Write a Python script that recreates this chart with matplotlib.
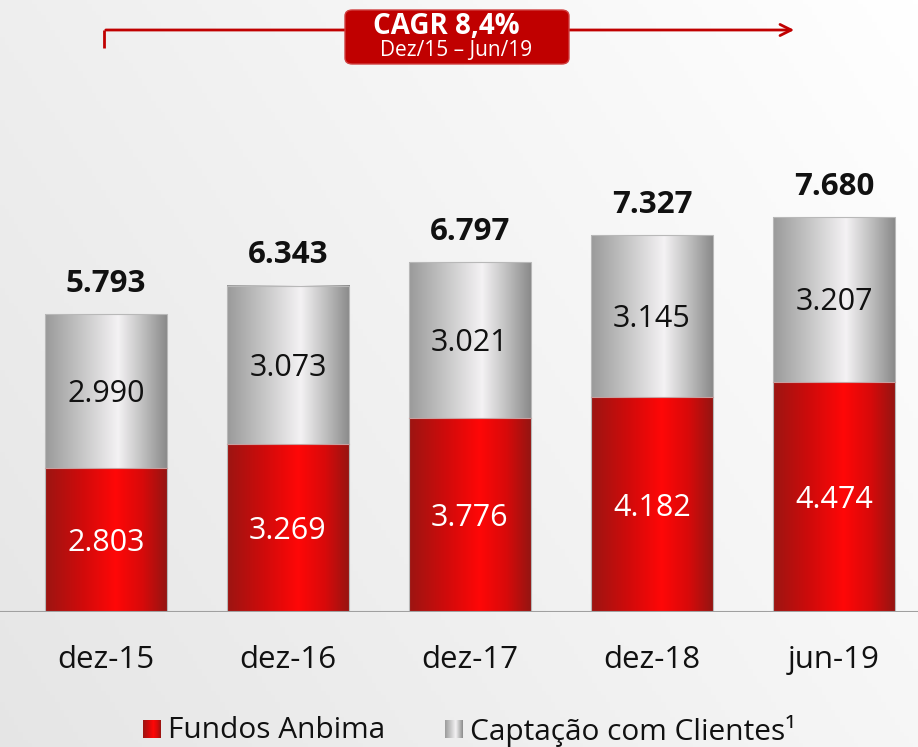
import numpy as np
import matplotlib
matplotlib.use("Agg")
import matplotlib.pyplot as plt
from matplotlib.colors import LinearSegmentedColormap
from matplotlib.patches import FancyBboxPatch, Rectangle

categories = ["dez-15", "dez-16", "dez-17", "dez-18", "jun-19"]
fundos = [2803, 3269, 3776, 4182, 4474]
captacao = [2990, 3073, 3021, 3145, 3207]
totals = [5793, 6343, 6797, 7327, 7680]
labels_fundos = ["2.803", "3.269", "3.776", "4.182", "4.474"]
labels_capt = ["2.990", "3.073", "3.021", "3.145", "3.207"]
labels_tot = ["5.793", "6.343", "6.797", "7.327", "7.680"]

plt.rcParams['font.family'] = ['Open Sans', 'DejaVu Sans']

W, H = 918, 747
fig = plt.figure(figsize=(W/100, H/100), dpi=100)

# background gradient
bg = fig.add_axes([0, 0, 1, 1])
yy, xx = np.mgrid[0:1:200j, 0:1:200j]
val = 0.90 + 0.10 * np.clip(0.65*xx + 0.35*(1-yy), 0, 1)
bg.imshow(np.dstack([val, val, val]), extent=[0, 1, 0, 1], aspect='auto', origin='upper')
bg.set_xlim(0, 1); bg.set_ylim(0, 1); bg.axis('off')

base_px = 612
ax = fig.add_axes([0, (H-base_px)/H, 1, base_px/H])
ax.patch.set_alpha(0)
scale = 0.05144
for s in ax.spines.values():
    s.set_visible(False)
ax.axhline(0, color="#a0a0a0", lw=1.5, zorder=5)
ax.set_yticks([])
ax.set_xticks(range(len(categories)))
ax.set_xticklabels(categories, fontsize=22.5, color="#111111")
ax.tick_params(axis='x', length=0, pad=24)

red_cmap = LinearSegmentedColormap.from_list("r", [(0, "#9c1512"), (0.3, "#cf0b0b"), (0.58, "#ff0707"), (0.8, "#d80a0a"), (1, "#951512")])
gray_cmap = LinearSegmentedColormap.from_list("g", [(0, "#9a9a9a"), (0.3, "#c6c6c6"), (0.6, "#f4f2f4"), (0.8, "#c0c0c0"), (1, "#8a8a8a")])
grad = np.linspace(0, 1, 256).reshape(1, -1)

bw = 122/182
x = np.arange(len(categories))
for i in range(len(categories)):
    x0 = x[i] - bw/2
    ax.imshow(grad, cmap=red_cmap, extent=[x0, x0+bw, 0, fundos[i]], aspect='auto', zorder=2)
    ax.imshow(grad, cmap=gray_cmap, extent=[x0, x0+bw, fundos[i], fundos[i]+captacao[i]], aspect='auto', zorder=2)
    ax.add_patch(Rectangle((x0, 0), bw, fundos[i]+captacao[i], fill=False, ec="#b8b8b8", lw=0.8, zorder=3))
    ax.plot([x0, x0+bw], [fundos[i]]*2, color="#c8a0a0", lw=0.8, zorder=3)
    ax.text(x[i], fundos[i]*0.5 - 60, labels_fundos[i], ha='center', va='center', color='white', fontsize=22, zorder=4)
    ax.text(x[i], fundos[i]+captacao[i]*0.5 - 60, labels_capt[i], ha='center', va='center', color='#111111', fontsize=22, zorder=4)
    ax.text(x[i], totals[i] + 300, labels_tot[i], ha='center', va='bottom', color='#111111', fontsize=22.5, fontweight='bold', zorder=4)
ax.set_xlim(-106/182, (918-106)/182)
ax.set_ylim(0, base_px/scale)

# CAGR arrow and box (figure coords)
def fx(px): return px/W
def fy(py): return 1 - py/H
red = "#c00000"
bg.plot([fx(104), fx(104)], [fy(48), fy(30)], color=red, lw=2, solid_capstyle='butt')
bg.annotate("", xy=(fx(797), fy(30)), xytext=(fx(103), fy(30)),
            arrowprops=dict(arrowstyle="->,head_length=0.8,head_width=0.4", color=red, lw=2))
box = FancyBboxPatch((fx(345), fy(64)), fx(569)-fx(345), fy(10)-fy(64),
                     boxstyle="round,pad=0,rounding_size=0.008", fc=red, ec="#d04040", lw=1, zorder=5)
bg.add_patch(box)
bg.text(fx(446), fy(27), "CAGR 8,4%", ha='center', va='center', color='white', fontsize=20, fontweight='bold', zorder=6)
bg.text(fx(456), fy(51), "Dez/15 – Jun/19", ha='center', va='center', color='white', fontsize=15, zorder=6)

# legend
lg = [(143, "Fundos Anbima", red_cmap), (445, "Captação com Clientes¹", gray_cmap)]
for px, lab, cm in lg:
    bg.imshow(grad, cmap=cm, extent=[fx(px), fx(px+18), fy(738), fy(720)], aspect='auto', zorder=5)
    bg.text(fx(px+25), fy(731), lab, ha='left', va='center', fontsize=21.5, color='#111111', zorder=5)
bg.set_xlim(0, 1); bg.set_ylim(0, 1)

fig.savefig("out.png", dpi=100)
